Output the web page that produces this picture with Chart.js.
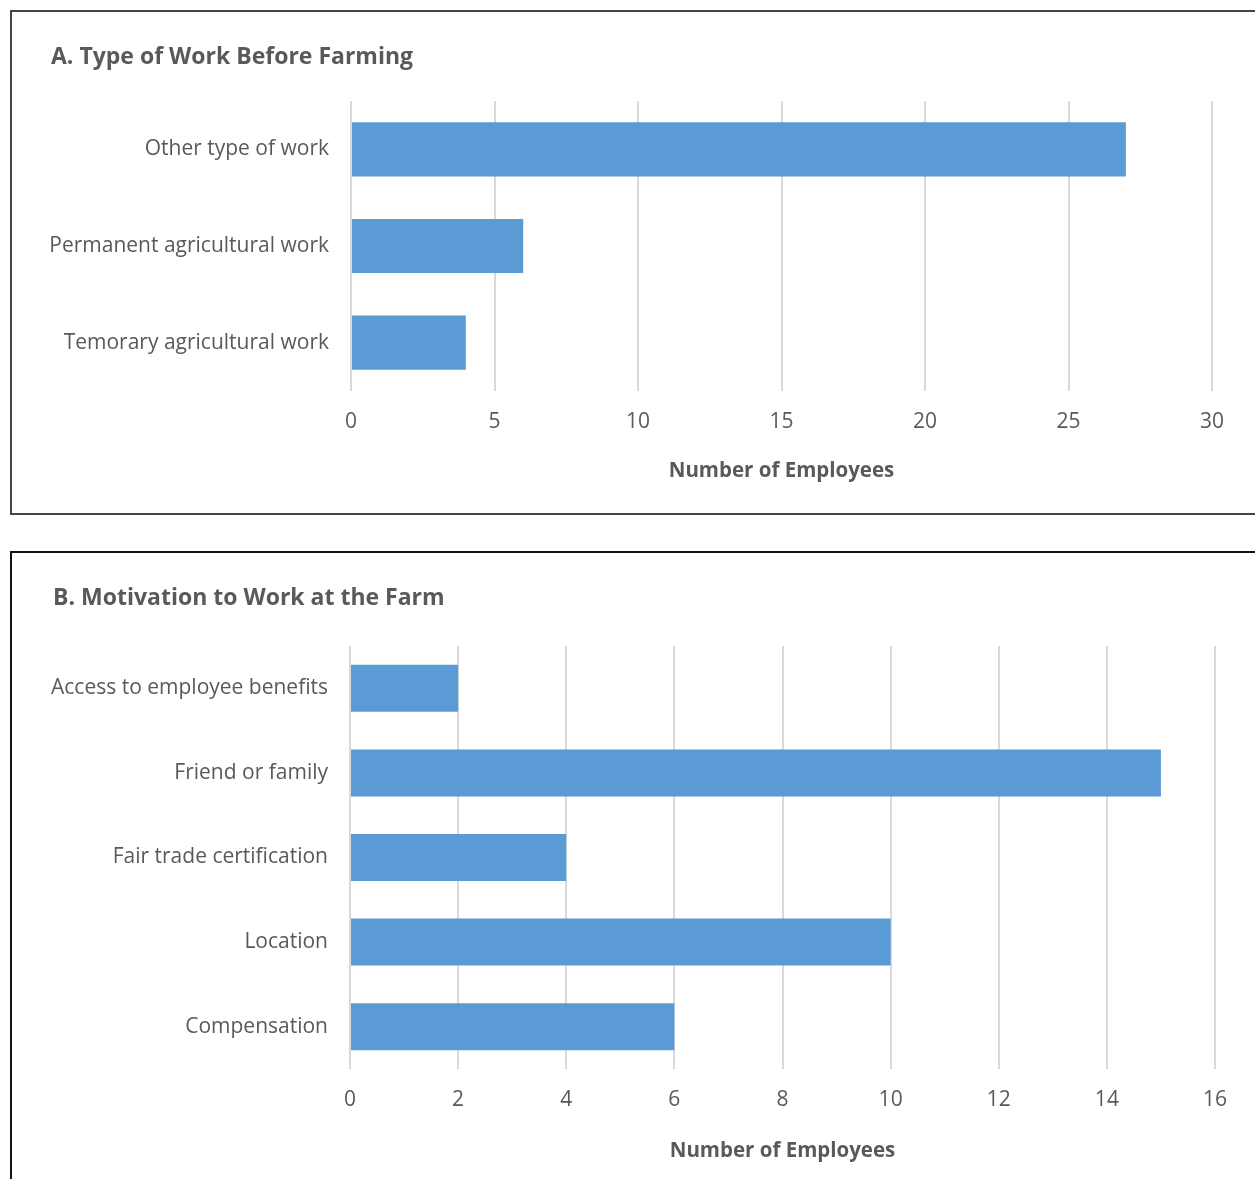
<!DOCTYPE html>
<html>
<head>
<meta charset="utf-8">
<script src="https://cdn.jsdelivr.net/npm/chart.js@4.4.1/dist/chart.umd.min.js"></script>
<style>
  html, body { margin: 0; padding: 0; background: #fff; overflow: hidden; width: 1255px; height: 1179px; }
  .panel { position: absolute; box-sizing: border-box; border: 2px solid #444; background: #fff; }
  #panelA { left: 10px; top: 10px; width: 1270px; height: 505px; }
  #panelB { left: 10px; top: 551px; width: 1270px; height: 700px; border-color: #111; }
  canvas { position: absolute; }
  #chartA { left: 12px; top: 12px; }
  #chartB { left: 12px; top: 553px; }
  .title {
    position: absolute; margin: 0;
    font-family: 'Open Sans', 'Liberation Sans', Arial, sans-serif;
    font-size: 23px; font-weight: bold; line-height: 28px; color: #595959;
    white-space: nowrap;
  }
  #titleA { left: 51px; top: 41px; }
  #titleB { left: 53px; top: 582px; }
</style>
</head>
<body>
<div class="panel" id="panelA"></div>
<div class="panel" id="panelB"></div>
<canvas id="chartA" width="1243" height="499"></canvas>
<canvas id="chartB" width="1243" height="626"></canvas>
<div class="title" id="titleA">A. Type of Work Before Farming</div>
<div class="title" id="titleB">B. Motivation to Work at the Farm</div>
<script>
// Panel A: type of work before farming
const workCategories = ['Other type of work', 'Permanent agricultural work', 'Temorary agricultural work'];
const workValues = [27, 6, 4];
const workTicks = [0, 5, 10, 15, 20, 25, 30];

// Panel B: motivation to work at the farm
const motivationCategories = ['Access to employee benefits', 'Friend or family', 'Fair trade certification', 'Location', 'Compensation'];
const motivationValues = [2, 15, 4, 10, 6];
const motivationTicks = [0, 2, 4, 6, 8, 10, 12, 14, 16];

const FONT = "'Open Sans', 'Liberation Sans', Arial, sans-serif";
const TEXT = '#595959';
const BAR = '#5b9bd5';
const GRID = '#d9d9d9';

function makeChart(id, labels, values, ticks, opts) {
    const step = ticks[1] - ticks[0];
    return new Chart(document.getElementById(id), {
        type: 'bar',
        data: {
            labels: labels,
            datasets: [{
                data: values,
                backgroundColor: BAR,
                borderWidth: 0,
                categoryPercentage: 1,
                barPercentage: opts.barPct
            }]
        },
        options: {
            indexAxis: 'y',
            responsive: false,
            animation: false,
            layout: { padding: { left: 0, right: opts.padRight, top: opts.padTop, bottom: 0 } },
            plugins: {
                legend: { display: false },
                tooltip: { enabled: false },
                title: { display: false }
            },
            scales: {
                x: {
                    min: ticks[0],
                    max: ticks[ticks.length - 1],
                    ticks: {
                        stepSize: step,
                        color: TEXT,
                        padding: 18,
                        font: { family: FONT, size: 21, lineHeight: 1.2 }
                    },
                    grid: { color: GRID, lineWidth: 2, drawTicks: false },
                    border: { display: false },
                    title: {
                        display: true,
                        text: 'Number of Employees',
                        color: TEXT,
                        font: { family: FONT, size: 20.5, weight: 'bold', lineHeight: 1.2 },
                        padding: { top: 0, bottom: opts.axisTitleBottom }
                    },
                    afterFit: function (scale) { scale.height = opts.xHeight; }
                },
                y: {
                    ticks: {
                        color: TEXT,
                        padding: 22,
                        font: { family: FONT, size: 21, lineHeight: 1.2 }
                    },
                    grid: { display: false, drawTicks: false },
                    border: { display: false },
                    afterFit: function (scale) { scale.width = opts.yWidth; }
                }
            }
        }
    });
}

makeChart('chartA', workCategories, workValues, workTicks, {
    barPct: 0.56, padRight: 43, padTop: 89,
    yWidth: 339, xHeight: 120, axisTitleBottom: 28
});

makeChart('chartB', motivationCategories, motivationValues, motivationTicks, {
    barPct: 0.555, padRight: 40, padTop: 93,
    yWidth: 338, xHeight: 110, axisTitleBottom: 16
});
</script>
</body>
</html>
